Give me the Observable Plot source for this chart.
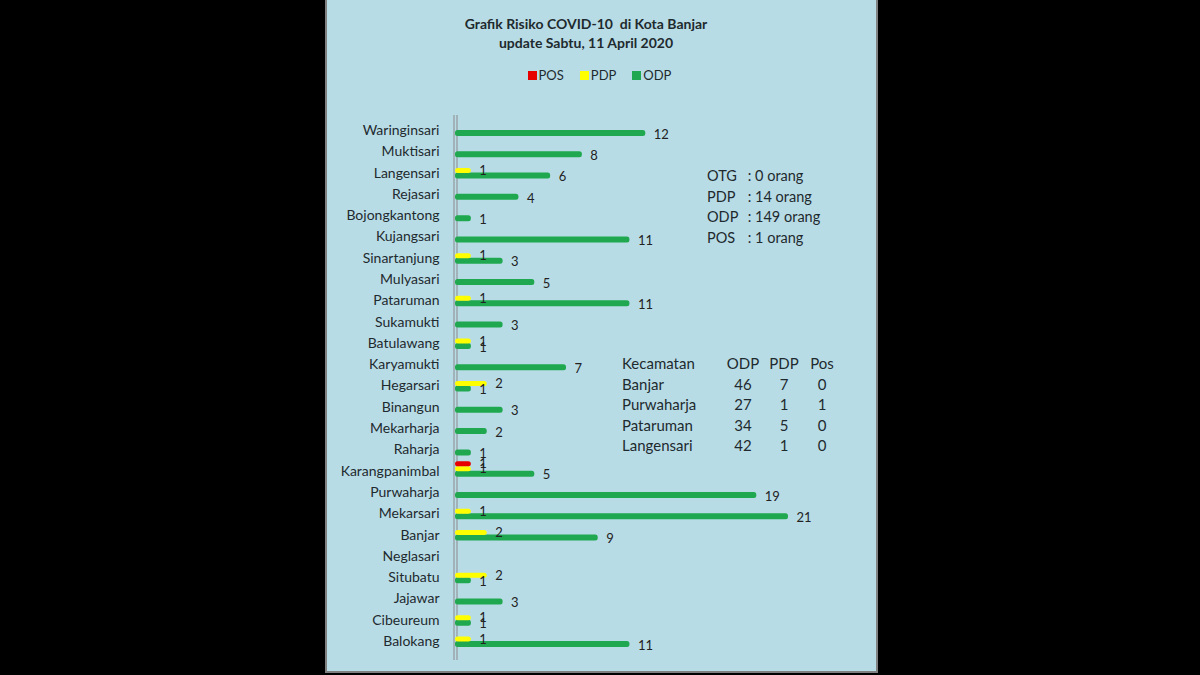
<!DOCTYPE html>
<html>
<head>
<meta charset="utf-8">
<script src="https://cdn.jsdelivr.net/npm/d3@7"></script>
<script src="https://cdn.jsdelivr.net/npm/@observablehq/plot@0.6"></script>
<style>
  html, body { margin: 0; padding: 0; background: #000; width: 1200px; height: 675px; overflow: hidden; }
  #panel { position: absolute; left: 325px; top: 0; width: 549px; height: 671px; background: #b8dce6; border: 2px solid #808080; border-top: none; font-family: Lato, "Open Sans", sans-serif; color: #1e2a2e; }
  #title { position: absolute; left: 0; width: 518px; top: 14px; text-align: center; font-weight: bold; font-size: 14px; line-height: 19px; }
  #legend { position: absolute; left: 0; width: 545px; top: 67px; display: flex; justify-content: center; gap: 16px; font-size: 13px; }
  #legend span.sw { display: inline-block; width: 9px; height: 9px; margin-right: 2px; vertical-align: 0px; }
  #chart { position: absolute; left: -2px; top: 100px; }
  #chart svg { max-width: none; }
  #summary { position: absolute; left: 380px; top: 166px; font-size: 14.5px; line-height: 20.7px; }
  #summary .k { display: inline-block; width: 37px; }
  #table { position: absolute; left: 295px; top: 353px; font-size: 15px; line-height: 20.5px; border-collapse: collapse; }
  #table td { padding: 0; }
  #table td.n { text-align: center; }
</style>
</head>
<body>
<div id="panel">
  <div id="title"></div>
  <div id="legend"></div>
  <div id="chart"></div>
  <div id="summary"></div>
  <table id="table"></table>
</div>
<script>
const titleLines = ["Grafik Risiko COVID-10\u00a0 di Kota Banjar", "update Sabtu, 11 April 2020"];
const categories = ["Waringinsari","Muktisari","Langensari","Rejasari","Bojongkantong","Kujangsari","Sinartanjung","Mulyasari","Pataruman","Sukamukti","Batulawang","Karyamukti","Hegarsari","Binangun","Mekarharja","Raharja","Karangpanimbal","Purwaharja","Mekarsari","Banjar","Neglasari","Situbatu","Jajawar","Cibeureum","Balokang"];
const odp = [12,8,6,4,1,11,3,5,11,3,1,7,1,3,2,1,5,19,21,9,0,1,3,1,11];
const pdp = [0,0,1,0,0,0,1,0,1,0,1,0,2,0,0,0,1,0,1,2,0,2,0,1,1];
const pos = [0,0,0,0,0,0,0,0,0,0,0,0,0,0,0,0,1,0,0,0,0,0,0,0,0];
const seriesNames = ["POS","PDP","ODP"];
const seriesColors = ["#e60000","#ffff00","#1fa84f"];

const summaryLabels = ["OTG","PDP","ODP","POS"];
const summaryValues = [0,14,149,1];

const tableHeader = ["Kecamatan","ODP","PDP","Pos"];
const kecamatan = ["Banjar","Purwaharja","Pataruman","Langensari"];
const kecODP = [46,27,34,42];
const kecPDP = [7,1,5,1];
const kecPos = [0,1,0,0];

// title & legend
document.getElementById("title").innerHTML = titleLines.join("<br>");
document.getElementById("legend").innerHTML = seriesNames.map((s,i) =>
  `<span><span class="sw" style="background:${seriesColors[i]}"></span>${s}</span>`).join("");

// summary
document.getElementById("summary").innerHTML = summaryLabels.map((k,i) =>
  `<div><span class="k">${k}</span> : ${summaryValues[i]} orang</div>`).join("");

// table
const colW = [101, 40, 42, 34];
let html = "<tr>" + tableHeader.map((h,i) => `<td class="${i? 'n':''}" style="width:${colW[i]}px">${h}</td>`).join("") + "</tr>";
kecamatan.forEach((k,i) => {
  html += `<tr><td>${k}</td><td class="n">${kecODP[i]}</td><td class="n">${kecPDP[i]}</td><td class="n">${kecPos[i]}</td></tr>`;
});
document.getElementById("table").innerHTML = html;

// chart data
const rows = [];
categories.forEach((c,i) => {
  rows.push({cat: c, series: "ODP", value: odp[i]});
  rows.push({cat: c, series: "PDP", value: pdp[i]});
  rows.push({cat: c, series: "POS", value: pos[i]});
});
const shown = rows.filter(d => d.value > 0);

const yRange = [19.35, 551.65];
const step = (yRange[1] - yRange[0]) / categories.length;
const offsets = {ODP: 3, PDP: -2, POS: -7};
const thick = {ODP: 6, PDP: 5, POS: 5};
function insets(s) {
  return {insetTop: step/2 + offsets[s] - thick[s]/2, insetBottom: step/2 - offsets[s] - thick[s]/2};
}
const color = s => seriesColors[seriesNames.indexOf(s)];

const marks = [
  Plot.ruleX([0], {stroke: "#8a8a8a", strokeWidth: 1, dx: -1.5}),
  Plot.ruleX([0], {stroke: "#8a8a8a", strokeWidth: 1, dx: 1.5})
];
for (const s of ["ODP","PDP","POS"]) {
  const data = shown.filter(d => d.series === s);
  marks.push(Plot.barX(data, {x: "value", y: "cat", fill: color(s), rx: 2.5, ...insets(s)}));
}
for (const s of ["ODP","PDP","POS"]) {
  const data = shown.filter(d => d.series === s);
  marks.push(Plot.text(data, {x: "value", y: "cat", text: d => String(d.value), dx: 8, dy: offsets[s] + (s === "ODP" ? 1 : 0), textAnchor: "start", fill: "#222", fontSize: 13}));
}

const chart = Plot.plot({
  width: 551,
  height: 570,
  marginLeft: 130,
  marginRight: 88,
  marginTop: 15,
  marginBottom: 10,
  x: {domain: [0, 21], range: [130, 463], axis: null},
  y: {domain: categories, range: yRange, padding: 0, round: false, tickSize: 0, tickPadding: 16, label: null, fontSize: 14},
  style: {background: "transparent", fontFamily: "Lato, 'Open Sans', sans-serif", fontSize: "14px", color: "#1e2a2e", overflow: "visible"},
  marks
});
document.getElementById("chart").appendChild(chart);
</script>
</body>
</html>
